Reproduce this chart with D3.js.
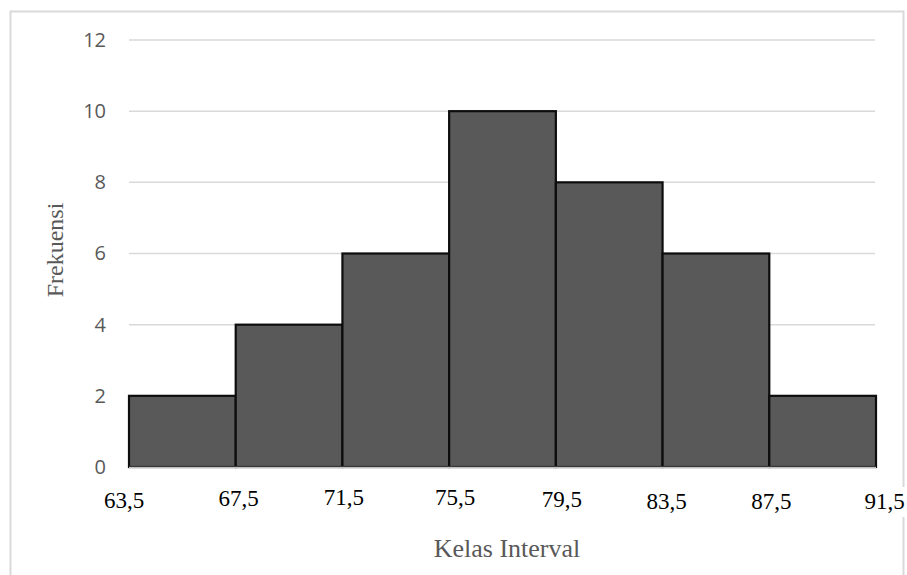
<!DOCTYPE html>
<html>
<head>
<meta charset="utf-8">
<script src="https://cdn.jsdelivr.net/npm/d3@7"></script>
<style>
  html, body { margin: 0; padding: 0; background: #fff; }
  svg { display: block; }
</style>
</head>
<body>
<svg id="chart" width="907" height="575"></svg>
<script>
// ---- data ----
const binEdges = [63.5, 67.5, 71.5, 75.5, 79.5, 83.5, 87.5, 91.5];
const frequencies = [2, 4, 6, 10, 8, 6, 2];
const edgeLabels = ["63,5", "67,5", "71,5", "75,5", "79,5", "83,5", "87,5", "91,5"];
const yTicks = [0, 2, 4, 6, 8, 10, 12];
const xTitle = "Kelas Interval";
const yTitle = "Frekuensi";

// ---- layout (hand-placed label nudges, as in the original text boxes) ----
const labelDx = [-5, 3, 1.5, 6, 6, 4, 2, 8.5];
const labelBaseline = [508, 506, 505, 505, 506.5, 509, 509, 509];

(function () {
const svg = d3.select("#chart");
const pLeft = 129, pRight = 876, pTop = 40, pBottom = 467;

const x = d3.scaleLinear().domain([binEdges[0], binEdges[binEdges.length - 1]]).range([pLeft, pRight]);
const y = d3.scaleLinear().domain([0, 12]).range([pBottom, pTop]);

// frame
svg.append("rect")
  .attr("x", 10.5).attr("y", 11.5).attr("width", 893).attr("height", 600)
  .attr("fill", "#fff").attr("stroke", "#d9d9d9").attr("stroke-width", 2);

// gridlines
svg.append("g").selectAll("line")
  .data(yTicks.filter(d => d > 0))
  .join("line")
  .attr("x1", pLeft).attr("x2", pRight - 1)
  .attr("y1", d => y(d)).attr("y2", d => y(d))
  .attr("stroke", "#d9d9d9").attr("stroke-width", 1.5);

// y axis labels
const yAxis = d3.axisLeft(y).tickValues(yTicks).tickSize(0).tickPadding(23).tickFormat(d3.format("d"));
const gy = svg.append("g").attr("transform", `translate(${pLeft},0)`).call(yAxis);
gy.select(".domain").remove();
gy.selectAll("text")
  .attr("fill", "#595959")
  .style("font-family", "'Open Sans', 'Liberation Sans', sans-serif")
  .style("font-size", "20px");

// bars
const bins = frequencies.map((f, i) => ({ x0: binEdges[i], x1: binEdges[i + 1], f }));
svg.append("g").selectAll("rect")
  .data(bins)
  .join("rect")
  .attr("x", d => x(d.x0))
  .attr("y", d => y(d.f))
  .attr("width", d => x(d.x1) - x(d.x0))
  .attr("height", d => y(0) - y(d.f))
  .attr("fill", "#595959")
  .attr("stroke", "#0d0d0d")
  .attr("stroke-width", 2.2);

// baseline
svg.append("line")
  .attr("x1", pLeft).attr("x2", pRight)
  .attr("y1", pBottom + 0.5).attr("y2", pBottom + 0.5)
  .attr("stroke", "#bfbfbf").attr("stroke-width", 1.5);

// x edge labels (white text boxes)
const lg = svg.append("g");
binEdges.forEach((e, i) => {
  const cx = x(e) + labelDx[i];
  const by = labelBaseline[i];
  lg.append("rect")
    .attr("x", cx - 24).attr("y", by - 22)
    .attr("width", 48).attr("height", 30)
    .attr("fill", "#fff");
  lg.append("text")
    .attr("x", cx).attr("y", by)
    .attr("text-anchor", "middle")
    .attr("fill", "#000")
    .style("font-family", "'Liberation Serif', 'Times New Roman', serif")
    .style("font-size", "23px")
    .text(edgeLabels[i]);
});

// axis titles
svg.append("text")
  .attr("x", 507).attr("y", 557)
  .attr("text-anchor", "middle")
  .attr("fill", "#595959")
  .style("font-family", "'Liberation Serif', 'Times New Roman', serif")
  .style("font-size", "26px")
  .text(xTitle);

svg.append("text")
  .attr("transform", "translate(63,250) rotate(-90)")
  .attr("text-anchor", "middle")
  .attr("fill", "#595959")
  .style("font-family", "'Liberation Serif', 'Times New Roman', serif")
  .style("font-size", "24px")
  .text(yTitle);
})();
</script>
</body>
</html>
